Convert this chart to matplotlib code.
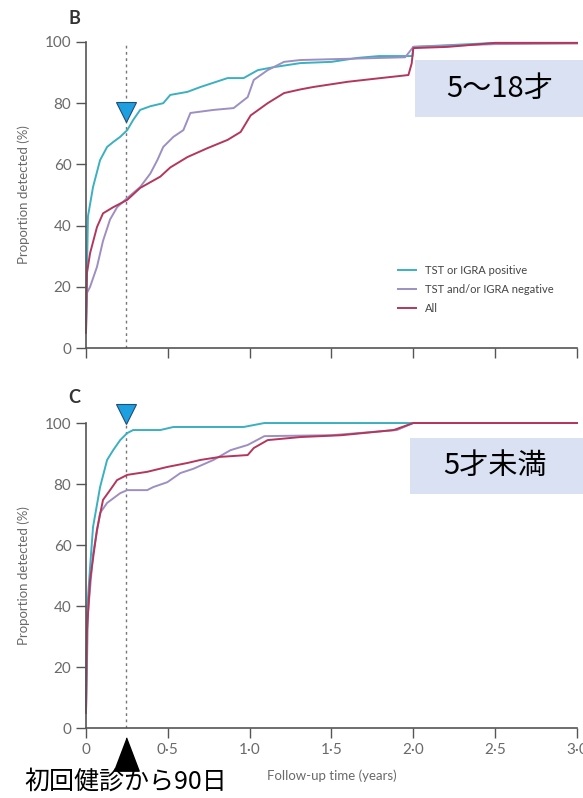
import numpy as np
import matplotlib.pyplot as plt
from matplotlib.patches import Rectangle

plt.rcParams['font.family'] = ['Lato', 'DejaVu Sans']

# Panel B (5-18 years): follow-up time (years) vs proportion detected (%)
b_pos_t = [0, 0.012, 0.043, 0.086, 0.129, 0.166, 0.209, 0.252, 0.288, 0.331, 0.393, 0.472, 0.515,
           0.62, 0.70, 0.865, 0.963, 1.05, 1.15, 1.31, 1.50, 1.66, 1.79, 1.995, 2.0, 2.5, 3.0]
b_pos_v = [8, 43, 52.6, 61.4, 65.7, 67.3, 69, 71.2, 74.5, 77.8, 79, 80, 82.7,
           83.7, 85.3, 88.2, 88.2, 90.8, 91.8, 93.1, 93.5, 94.8, 95.4, 95.4, 98.4, 99.7, 99.7]

b_neg_t = [0, 0.006, 0.025, 0.067, 0.104, 0.147, 0.19, 0.252, 0.331, 0.393, 0.436, 0.472, 0.534,
           0.595, 0.638, 0.779, 0.902, 0.988, 1.025, 1.11, 1.21, 1.31, 1.95, 2.0, 2.5, 3.0]
b_neg_v = [5, 18, 20, 26.5, 35, 42, 46, 49, 52.6, 57, 61.4, 65.7, 69,
           71.2, 76.8, 77.8, 78.4, 82, 87.6, 90.8, 93.5, 94.1, 95, 98.4, 99.3, 99.5]

b_all_t = [0, 0.006, 0.025, 0.067, 0.104, 0.166, 0.252, 0.331, 0.454, 0.515, 0.62, 0.742, 0.865,
           0.945, 1.006, 1.11, 1.21, 1.31, 1.39, 1.60, 1.80, 1.97, 1.99, 2.0, 2.21, 2.5, 3.0]
b_all_v = [5, 24.5, 31, 39.5, 44, 46, 48.4, 52.3, 56, 59, 62.4, 65.3, 68,
           70.6, 76, 80, 83.3, 84.5, 85.3, 87, 88.2, 89.2, 93, 98, 98.4, 99.7, 99.7]

# Panel C (under 5 years)
c_pos_t = [0, 0.006, 0.025, 0.043, 0.086, 0.129, 0.166, 0.209, 0.252, 0.288, 0.454, 0.534, 0.963, 1.09, 3.0]
c_pos_v = [5, 37.7, 52.8, 65.9, 79, 87.9, 91.1, 94.4, 96.7, 97.7, 97.7, 98.7, 98.7, 100, 100]

c_neg_t = [0, 0.012, 0.043, 0.086, 0.129, 0.209, 0.252, 0.374, 0.411, 0.497, 0.577, 0.656, 0.779,
           0.883, 0.988, 1.09, 1.5, 1.9, 2.0, 3.0]
c_neg_v = [5, 37.7, 57, 70.5, 73.8, 77, 78, 78, 79, 80.6, 83.6, 85, 87.9,
           91.1, 92.8, 95.7, 96, 97.7, 100, 100]

c_all_t = [0, 0.006, 0.025, 0.067, 0.104, 0.147, 0.19, 0.252, 0.374, 0.497, 0.62, 0.70, 0.82,
           0.988, 1.025, 1.11, 1.31, 1.56, 1.88, 2.0, 3.0]
c_all_v = [5, 32, 48.5, 65, 74.8, 78, 81.3, 83, 84, 85.6, 86.9, 87.9, 88.9,
           89.5, 91.8, 94.4, 95.4, 96, 97.7, 100, 100]

labels = ['TST or IGRA positive', 'TST and/or IGRA negative', 'All']
colors = ['#3bb0c0', '#9d8fc2', '#b3365c']
xticks = [0, 0.5, 1.0, 1.5, 2.0, 2.5, 3.0]
xticklabels = ['0', '0·5', '1·0', '1·5', '2·0', '2·5', '3·0']
day90 = 90 / 365

fig = plt.figure(figsize=(5.83, 7.98), dpi=100)
axB = fig.add_axes([0.1475, 0.5639, 0.8422, 0.3835])
axC = fig.add_axes([0.1475, 0.0877, 0.8422, 0.3822])

grey = '#6a6a6a'
for ax, curves in [(axB, [(b_pos_t, b_pos_v), (b_neg_t, b_neg_v), (b_all_t, b_all_v)]),
                   (axC, [(c_pos_t, c_pos_v), (c_neg_t, c_neg_v), (c_all_t, c_all_v)])]:
    for (t, v), c, lab in zip(curves, colors, labels):
        ax.plot(t, v, color=c, lw=1.4, label=lab, clip_on=False)
    ax.plot([day90, day90], [0, 100], color='#777777', lw=1, ls=(0, (2, 2.5)), zorder=0)
    ax.set_xlim(0, 3.0)
    ax.set_ylim(0, 100)
    ax.set_xticks(xticks)
    ax.set_yticks([0, 20, 40, 60, 80, 100])
    for s in ['top', 'right']:
        ax.spines[s].set_visible(False)
    for s in ['left', 'bottom']:
        ax.spines[s].set_color('#555555')
        ax.spines[s].set_linewidth(1.2)
    ax.tick_params(direction='out', length=7, width=1, color='#555555', labelcolor=grey, labelsize=11)
    ax.set_ylabel('Proportion detected (%)', color=grey, fontsize=9.5, labelpad=11)

axB.set_xticklabels([])
axC.set_xticklabels(xticklabels)
axC.set_xlabel('Follow-up time (years)', color=grey, fontsize=9.5, labelpad=9)

axB.legend(loc='upper left', bbox_to_anchor=(0.615, 0.305), frameon=False, fontsize=8,
           handlelength=1.6, handletextpad=0.8, labelspacing=0.75, labelcolor='#444444')

fig.text(68 / 583, 1 - 18 / 798, 'B', fontsize=13, fontweight='bold', color='#333333', ha='left', va='center')
fig.text(68 / 583, 1 - 397 / 798, 'C', fontsize=13, fontweight='bold', color='#333333', ha='left', va='center')

# markers at 90 days
axB.plot([day90], [77], marker='v', ms=14, color='#1ea0e0', mec='#1f4e79', mew=0.8, clip_on=False, zorder=5)
axC.plot([day90], [103], marker='v', ms=14, color='#1ea0e0', mec='#1f4e79', mew=0.8, clip_on=False, zorder=5)
axC.plot([day90], [-8.5], marker=[(-0.38, -0.5), (0.38, -0.5), (0, 0.5)], ms=24, color='black',
         clip_on=False, zorder=5)

# age group boxes
jp = ['Noto Sans CJK JP', 'DejaVu Sans']
fig.add_artist(Rectangle((0.7118, 0.8534), 0.2882, 0.0714, transform=fig.transFigure,
                         facecolor='#d9e1f2', edgecolor='none'))
fig.text(0.857, 0.889, '5～18才', family=jp, fontsize=21, ha='center', va='center', color='black')
fig.add_artist(Rectangle((0.7033, 0.381), 0.2967, 0.0702, transform=fig.transFigure,
                         facecolor='#d9e1f2', edgecolor='none'))
fig.text(0.849, 0.416, '5才未満', family=jp, fontsize=21, ha='center', va='center', color='black')

fig.text(0.216, 0.021, '初回健診から90日', family=jp, fontsize=18, ha='center', va='center', color='black')

fig.savefig('out.png', dpi=100)
